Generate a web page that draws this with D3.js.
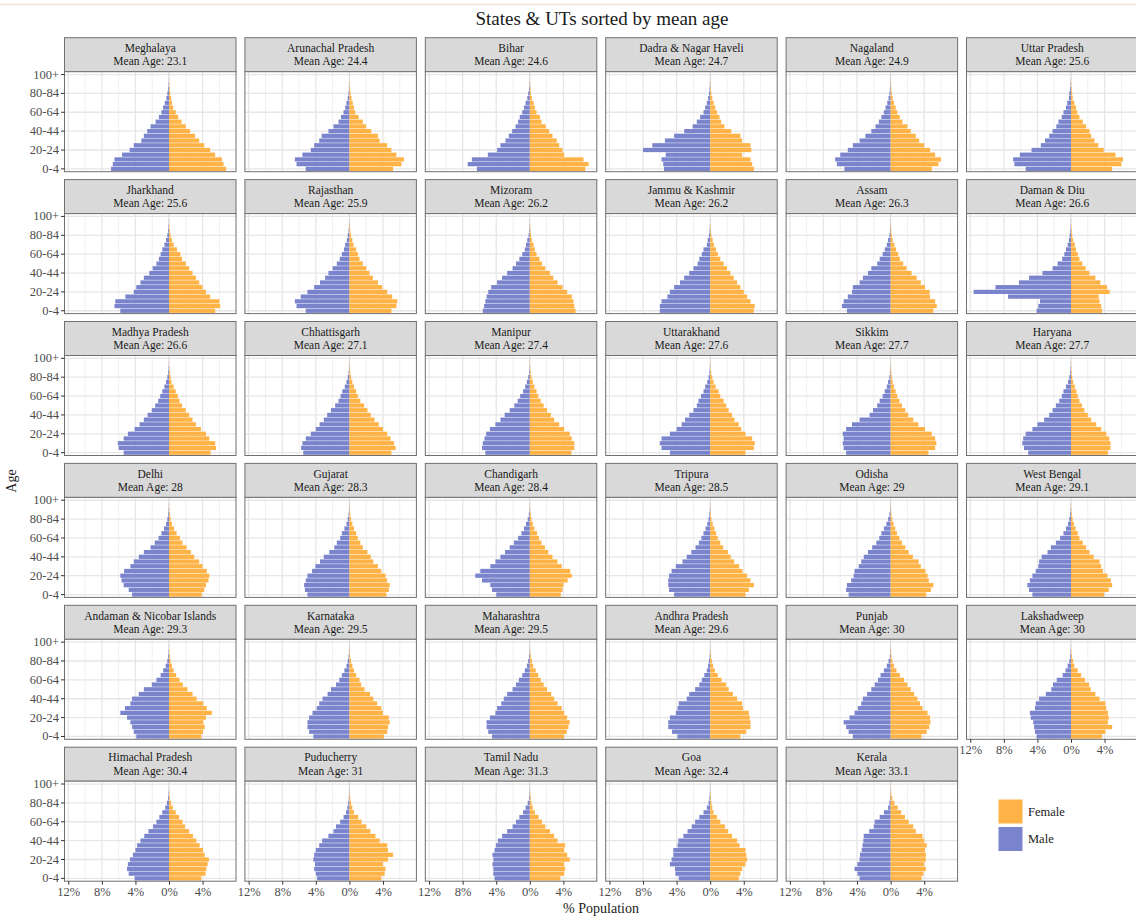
<!DOCTYPE html>
<html><head><meta charset="utf-8">
<script src="https://cdn.jsdelivr.net/npm/d3@7"></script>
<style>body{margin:0;background:#fff}svg{display:block}</style>
</head><body>
<svg id="chart" width="1136" height="916"></svg>
<script>
const ageGroups = ["0-4","5-9","10-14","15-19","20-24","25-29","30-34","35-39","40-44","45-49","50-54","55-59","60-64","65-69","70-74","75-79","80-84","85-89","90-94","95-99","100+"];
const yTickLabels = ["0-4","20-24","40-44","60-64","80-84","100+"];
const xTickValues = [-12,-8,-4,0,4];
const xMinorValues = [-10,-6,-2,2,6];
const sexes = ["Female","Male"];
const states = ["Meghalaya","Arunachal Pradesh","Bihar","Dadra & Nagar Haveli","Nagaland","Uttar Pradesh",
"Jharkhand","Rajasthan","Mizoram","Jammu & Kashmir","Assam","Daman & Diu",
"Madhya Pradesh","Chhattisgarh","Manipur","Uttarakhand","Sikkim","Haryana",
"Delhi","Gujarat","Chandigarh","Tripura","Odisha","West Bengal",
"Andaman & Nicobar Islands","Karnataka","Maharashtra","Andhra Pradesh","Punjab","Lakshadweep",
"Himachal Pradesh","Puducherry","Tamil Nadu","Goa","Kerala"];
const meanAges = [23.1,24.4,24.6,24.7,24.9,25.6,25.6,25.9,26.2,26.2,26.3,26.6,26.6,27.1,27.4,27.6,27.7,27.7,28,28.3,28.4,28.5,29,29.1,29.3,29.5,29.5,29.6,30,30,30.4,31,31.3,32.4,33.1];

// % of state population, male, by age group (0-4 ... 100+)
const maleValues = [
[6.9,6.7,6.5,5.6,4.7,4.2,3.3,3.0,2.6,2.2,1.6,1.2,0.9,0.7,0.5,0.3,0.2,0.1,0.05,0.02,0.01],
[5.2,6.3,6.5,5.6,4.6,4.2,3.6,3.3,2.5,1.9,1.3,1.0,0.7,0.5,0.35,0.2,0.12,0.06,0.03,0.01,0.01],
[6.3,7.4,6.9,5.0,3.9,3.5,2.9,2.5,2.1,1.7,1.4,1.2,0.9,0.7,0.5,0.3,0.2,0.1,0.05,0.02,0.01],
[5.5,5.6,5.8,5.3,8.0,6.9,5.4,4.3,3.1,2.1,1.6,1.2,0.8,0.6,0.4,0.25,0.15,0.08,0.04,0.02,0.01],
[5.5,6.4,6.6,6.0,5.1,4.5,3.7,3.0,2.3,1.8,1.4,1.1,0.8,0.6,0.4,0.25,0.15,0.08,0.04,0.02,0.01],
[5.4,6.75,6.9,6.1,4.7,3.6,3.1,2.6,2.2,1.75,1.5,1.1,0.9,0.6,0.45,0.25,0.2,0.1,0.05,0.02,0.01],
[5.8,6.5,6.4,5.2,4.2,3.9,3.4,3.0,2.35,1.95,1.5,1.2,1.0,0.8,0.55,0.35,0.2,0.1,0.05,0.02,0.01],
[5.2,6.3,6.5,5.8,5.0,4.2,3.5,2.9,2.5,2.0,1.5,1.15,0.9,0.65,0.5,0.3,0.2,0.1,0.05,0.02,0.01],
[5.6,5.45,5.3,5.15,4.95,4.6,3.9,3.3,2.7,2.05,1.65,1.25,0.9,0.6,0.45,0.3,0.15,0.08,0.04,0.02,0.01],
[6.0,6.0,5.8,5.1,4.8,4.3,3.6,3.1,2.5,2.0,1.5,1.3,1.0,0.8,0.4,0.3,0.15,0.08,0.04,0.02,0.01],
[5.2,5.8,5.6,5.1,4.6,4.5,3.7,3.3,2.7,2.3,1.6,1.3,0.95,0.7,0.45,0.3,0.15,0.08,0.04,0.02,0.01],
[4.1,3.9,3.7,7.5,11.6,9.0,6.2,5.0,3.4,2.2,1.6,1.05,0.8,0.6,0.4,0.25,0.15,0.08,0.04,0.02,0.01],
[5.4,6.0,6.1,5.4,4.9,4.1,3.5,3.0,2.55,2.05,1.65,1.3,1.05,0.8,0.55,0.35,0.2,0.1,0.05,0.02,0.01],
[5.5,5.75,5.6,5.2,4.6,4.0,3.55,3.05,2.65,2.2,1.7,1.3,1.05,0.85,0.55,0.35,0.2,0.1,0.05,0.02,0.01],
[5.3,5.7,5.6,5.4,5.2,4.75,4.1,3.5,3.0,2.4,1.85,1.45,1.15,0.8,0.55,0.35,0.2,0.1,0.05,0.02,0.01],
[4.8,5.8,6.0,5.8,4.8,4.0,3.4,3.0,2.5,2.0,1.6,1.4,1.1,0.8,0.6,0.35,0.2,0.1,0.05,0.02,0.01],
[5.3,5.6,5.7,5.6,5.7,5.3,4.6,3.7,2.5,2.1,1.6,1.3,0.95,0.7,0.45,0.3,0.15,0.08,0.04,0.02,0.01],
[5.1,5.6,5.8,5.7,5.4,4.6,4.0,3.2,2.6,2.2,1.8,1.4,1.1,0.9,0.6,0.35,0.2,0.1,0.05,0.02,0.01],
[4.4,4.8,5.4,5.65,5.8,5.35,4.6,4.2,3.6,3.0,2.2,1.7,1.25,0.9,0.6,0.35,0.2,0.1,0.05,0.02,0.01],
[5.0,5.3,5.4,5.2,5.0,4.45,4.05,3.5,3.05,2.4,1.8,1.5,1.1,0.9,0.6,0.35,0.2,0.1,0.05,0.02,0.01],
[4.0,4.5,4.7,5.7,6.5,5.9,4.7,4.1,3.5,2.95,2.4,1.9,1.4,1.0,0.7,0.45,0.25,0.12,0.05,0.02,0.01],
[4.3,4.9,5.0,5.0,4.9,4.6,4.1,3.3,2.8,2.25,1.75,1.35,1.05,0.8,0.55,0.35,0.2,0.1,0.05,0.02,0.01],
[5.0,5.3,5.2,4.7,4.4,4.3,3.8,3.5,3.2,2.7,2.2,1.7,1.35,1.1,0.8,0.5,0.3,0.15,0.06,0.02,0.01],
[4.6,5.0,5.2,4.9,4.6,4.2,3.9,3.8,3.5,2.8,2.4,1.8,1.3,0.9,0.6,0.35,0.2,0.1,0.05,0.02,0.01],
[3.9,4.2,4.4,4.6,5.0,5.8,5.25,4.6,4.4,3.6,3.0,2.05,1.5,1.0,0.7,0.4,0.2,0.1,0.05,0.02,0.01],
[4.3,4.8,5.0,5.0,4.8,4.4,3.9,3.6,3.2,2.6,2.2,1.6,1.2,0.9,0.6,0.35,0.2,0.1,0.05,0.02,0.01],
[4.5,4.95,5.15,5.15,4.75,4.1,3.9,3.4,3.1,2.7,2.05,1.65,1.3,0.9,0.6,0.35,0.2,0.1,0.05,0.02,0.01],
[3.9,4.55,5.0,5.0,4.8,4.1,3.9,3.75,2.8,2.5,1.8,1.3,1.0,0.7,0.4,0.25,0.15,0.08,0.04,0.02,0.01],
[4.5,5.0,5.3,5.6,4.9,4.3,3.9,3.5,3.3,2.8,2.3,1.9,1.5,1.2,0.8,0.45,0.25,0.1,0.05,0.02,0.01],
[4.1,4.3,4.4,4.5,4.8,4.9,4.3,4.2,3.8,3.0,2.35,2.15,1.7,1.0,0.65,0.4,0.2,0.1,0.05,0.02,0.01],
[4.1,4.8,5.0,4.9,4.65,4.3,4.0,3.8,3.4,2.95,2.45,1.9,1.5,1.15,0.8,0.45,0.25,0.1,0.05,0.02,0.01],
[3.85,4.0,4.2,4.1,4.3,4.2,4.0,3.6,3.25,2.5,1.9,1.6,1.1,0.7,0.4,0.25,0.15,0.08,0.04,0.02,0.01],
[4.2,4.35,4.35,4.45,4.35,4.45,4.2,4.05,3.8,3.3,2.7,2.05,1.65,1.25,0.8,0.5,0.25,0.1,0.05,0.02,0.01],
[3.75,4.15,4.2,4.8,4.6,4.4,4.4,3.9,3.8,3.2,2.7,2.2,1.8,1.3,0.8,0.4,0.2,0.1,0.05,0.02,0.01],
[3.7,3.95,4.3,3.95,3.7,3.65,3.45,3.35,3.25,3.2,2.55,2.0,1.9,1.3,0.8,0.3,0.15,0.08,0.04,0.02,0.01]
];

// % of state population, female, by age group (0-4 ... 100+)
const femaleValues = [
[6.8,6.5,6.3,5.5,4.9,4.2,3.6,3.1,2.5,2.0,1.5,1.1,0.8,0.5,0.35,0.25,0.15,0.08,0.04,0.02,0.01],
[5.2,6.2,6.5,5.6,5.0,4.5,3.6,3.4,2.6,2.0,1.6,1.1,0.7,0.55,0.4,0.25,0.15,0.08,0.04,0.02,0.01],
[6.6,7.0,6.4,4.1,3.9,3.5,3.2,2.7,2.3,1.9,1.4,1.2,0.8,0.6,0.45,0.25,0.15,0.08,0.04,0.02,0.01],
[5.2,5.0,4.8,3.8,4.9,4.8,3.8,3.6,2.5,1.7,1.3,1.1,0.8,0.6,0.4,0.25,0.15,0.08,0.04,0.02,0.01],
[4.9,5.7,6.0,5.3,4.7,4.0,3.4,3.0,2.4,2.0,1.4,1.1,0.8,0.6,0.4,0.25,0.15,0.08,0.04,0.02,0.01],
[4.9,6.0,6.2,5.3,3.9,3.25,2.8,2.4,2.2,1.8,1.4,1.0,0.75,0.6,0.4,0.2,0.15,0.08,0.04,0.02,0.01],
[5.5,6.1,6.0,4.9,4.4,4.0,3.6,3.2,2.8,2.4,2.0,1.55,1.35,0.95,0.55,0.35,0.2,0.1,0.05,0.02,0.01],
[5.0,5.6,5.7,5.1,4.5,3.9,3.4,2.8,2.4,2.0,1.6,1.2,1.0,0.8,0.5,0.35,0.2,0.1,0.05,0.02,0.01],
[5.45,5.3,5.2,5.0,4.45,3.9,3.3,2.8,2.4,1.85,1.45,1.15,0.8,0.6,0.45,0.25,0.15,0.08,0.04,0.02,0.01],
[5.2,5.3,4.8,4.4,4.0,3.6,3.2,2.8,2.4,2.0,1.6,1.2,0.9,0.7,0.45,0.3,0.15,0.08,0.04,0.02,0.01],
[5.1,5.5,5.3,4.7,4.65,4.1,3.6,3.1,2.5,1.9,1.5,1.1,0.9,0.65,0.45,0.25,0.15,0.08,0.04,0.02,0.01],
[3.7,3.6,3.4,3.3,4.6,4.3,3.5,2.9,2.2,1.75,1.35,1.0,0.8,0.6,0.45,0.25,0.15,0.08,0.04,0.02,0.01],
[4.95,5.6,5.5,4.8,4.4,3.8,3.2,2.8,2.4,2.0,1.55,1.25,1.05,0.8,0.55,0.3,0.2,0.1,0.05,0.02,0.01],
[5.0,5.5,5.3,4.9,4.5,4.0,3.5,3.0,2.55,2.15,1.75,1.3,1.0,0.8,0.55,0.35,0.2,0.1,0.05,0.02,0.01],
[4.95,5.3,5.3,5.0,4.75,4.1,3.5,2.9,2.5,2.05,1.65,1.3,1.0,0.8,0.55,0.35,0.2,0.1,0.05,0.02,0.01],
[4.2,5.2,5.3,5.0,4.2,3.7,3.4,2.9,2.6,2.2,1.9,1.6,1.2,1.0,0.65,0.4,0.25,0.12,0.05,0.02,0.01],
[4.5,5.3,5.45,5.3,4.9,4.1,3.3,2.7,2.1,1.75,1.35,1.05,0.8,0.6,0.4,0.25,0.15,0.08,0.04,0.02,0.01],
[4.4,4.7,4.7,4.55,4.2,3.6,3.0,2.4,2.0,1.6,1.3,1.0,0.8,0.65,0.45,0.25,0.15,0.08,0.04,0.02,0.01],
[3.9,4.2,4.4,4.7,4.8,4.5,4.0,3.6,3.0,2.6,2.1,1.6,1.3,0.9,0.6,0.35,0.2,0.1,0.05,0.02,0.01],
[4.4,4.7,4.8,4.5,4.3,3.8,3.4,2.85,2.55,2.15,1.6,1.3,1.0,0.8,0.55,0.35,0.2,0.1,0.05,0.02,0.01],
[3.7,3.9,4.0,4.5,5.0,4.8,3.8,3.3,2.7,2.2,1.8,1.4,1.1,0.85,0.55,0.35,0.2,0.1,0.05,0.02,0.01],
[4.2,4.6,5.2,4.8,4.4,3.85,3.45,2.85,2.45,2.1,1.55,1.2,0.9,0.7,0.5,0.3,0.15,0.08,0.04,0.02,0.01],
[4.25,4.8,5.1,4.55,4.4,4.15,3.6,3.35,2.65,2.15,1.75,1.35,1.05,0.75,0.55,0.35,0.2,0.1,0.05,0.02,0.01],
[3.95,4.5,4.9,4.75,4.35,3.8,3.6,3.4,2.7,2.2,1.8,1.4,1.0,0.8,0.55,0.35,0.2,0.1,0.05,0.02,0.01],
[3.85,4.05,4.25,4.1,4.4,5.1,4.5,4.1,3.3,2.8,2.2,1.65,1.25,0.85,0.55,0.35,0.2,0.1,0.05,0.02,0.01],
[4.1,4.5,4.6,4.8,4.7,4.0,3.8,3.3,2.85,2.45,1.8,1.4,1.2,0.8,0.55,0.35,0.2,0.1,0.05,0.02,0.01],
[4.1,4.4,4.6,4.75,4.45,4.1,3.8,3.3,2.9,2.55,2.05,1.65,1.3,1.0,0.7,0.4,0.25,0.12,0.05,0.02,0.01],
[3.6,4.3,4.8,4.8,4.7,4.6,3.9,3.8,3.2,2.7,2.2,1.9,1.35,0.9,0.55,0.35,0.2,0.1,0.05,0.02,0.01],
[3.7,4.3,4.6,4.75,4.7,4.4,3.8,3.5,3.2,2.8,2.4,2.0,1.6,1.1,0.7,0.4,0.22,0.1,0.05,0.02,0.01],
[3.7,4.1,4.9,4.4,4.5,4.4,4.2,4.1,3.4,2.9,2.35,2.15,1.65,1.2,0.8,0.4,0.25,0.1,0.05,0.02,0.01],
[3.85,4.35,4.45,4.6,4.75,4.25,4.05,3.65,3.25,2.85,2.4,1.9,1.6,1.2,0.8,0.45,0.25,0.1,0.05,0.02,0.01],
[3.8,4.2,4.3,4.0,4.6,5.2,4.6,4.5,3.6,3.1,2.5,2.0,1.45,1.05,0.55,0.35,0.2,0.1,0.05,0.02,0.01],
[3.65,4.1,4.2,4.1,4.75,4.45,4.1,4.2,3.3,2.9,2.4,1.85,1.45,1.05,0.6,0.35,0.2,0.1,0.05,0.02,0.01],
[3.4,3.6,3.8,4.2,4.4,4.3,4.2,3.5,3.2,2.6,2.15,1.75,1.2,0.8,0.4,0.25,0.15,0.08,0.04,0.02,0.01],
[3.7,3.9,4.2,4.0,4.2,4.2,4.1,4.3,4.0,3.8,3.0,2.7,2.15,1.7,1.25,0.85,0.45,0.2,0.08,0.03,0.01]
];

const colors = {Female: "#FFB347", Male: "#7A84CD"};
const FONT = "'Liberation Serif','DejaVu Serif',serif";

const svg = d3.select("#chart").style("font-family", FONT);

// layout
const nCols = 6;
const colX0 = 64.5, colPitch = 180.4, panelW = 171.5;
const rowY0 = 37.7, rowPitch = 141.9, stripH = 34, plotH = 100;

const x = d3.scaleLinear().domain([-12.45, 7.98]).range([0, panelW]);
const y = d3.scaleBand().domain(ageGroups).range([plotH, 0]).paddingInner(0).paddingOuter(0.1);
const bw = y.bandwidth();

// faint top line
svg.append("line").attr("x1",0).attr("x2",1136).attr("y1",4.5).attr("y2",4.5)
  .attr("stroke","#F7E4D2").attr("stroke-width",1.5);

// title
svg.append("text").attr("x", 602).attr("y", 25).attr("text-anchor","middle")
  .attr("font-size", 19).attr("fill","#1a1a1a").text("States & UTs sorted by mean age");

states.forEach((st, i) => {
  const col = i % nCols, row = Math.floor(i / nCols);
  const px = colX0 + col * colPitch;
  const sy = rowY0 + row * rowPitch;
  const g = svg.append("g").attr("transform", `translate(${px},${sy})`);

  // strip
  g.append("rect").attr("x",0).attr("y",0).attr("width",panelW).attr("height",stripH)
    .attr("fill","#D9D9D9").attr("stroke","#707070").attr("stroke-width",1);
  g.append("text").attr("x",panelW/2).attr("y",14.3).attr("text-anchor","middle")
    .attr("font-size",11.5).attr("fill","#1a1a1a").text(st);
  g.append("text").attr("x",panelW/2).attr("y",27.4).attr("text-anchor","middle")
    .attr("font-size",11.5).attr("fill","#1a1a1a").text("Mean Age: " + meanAges[i]);

  const p = g.append("g").attr("transform", `translate(0,${stripH})`);
  p.append("rect").attr("width",panelW).attr("height",plotH).attr("fill","#fff");
  // grid
  p.selectAll(".minx").data(xMinorValues).join("line")
    .attr("x1",d=>x(d)).attr("x2",d=>x(d)).attr("y1",0).attr("y2",plotH)
    .attr("stroke","#F0F0F0").attr("stroke-width",1);
  p.selectAll(".majx").data(xTickValues).join("line")
    .attr("x1",d=>x(d)).attr("x2",d=>x(d)).attr("y1",0).attr("y2",plotH)
    .attr("stroke","#E6E6E6").attr("stroke-width",1.3);
  p.selectAll(".majy").data(yTickLabels).join("line")
    .attr("x1",0).attr("x2",panelW).attr("y1",d=>y(d)+bw/2).attr("y2",d=>y(d)+bw/2)
    .attr("stroke","#E6E6E6").attr("stroke-width",1.3);

  // bars
  const rows = [];
  ageGroups.forEach((a, k) => {
    rows.push({age:a, sex:"Male", v:-maleValues[i][k]});
    rows.push({age:a, sex:"Female", v:femaleValues[i][k]});
  });
  p.selectAll(".bar").data(rows).join("rect")
    .attr("x", d => x(Math.min(0, d.v)))
    .attr("width", d => Math.abs(x(d.v) - x(0)))
    .attr("y", d => y(d.age) + bw*0.05)
    .attr("height", bw*0.9)
    .attr("fill", d => colors[d.sex]);

  // border
  p.append("rect").attr("width",panelW).attr("height",plotH).attr("fill","none")
    .attr("stroke","#707070").attr("stroke-width",1);

  // y axis on first column
  if (col === 0) {
    const ya = p.append("g").call(d3.axisLeft(y).tickValues(yTickLabels).tickSize(3.5).tickPadding(2));
    ya.select(".domain").remove();
    ya.selectAll("line").attr("stroke","#333");
    ya.selectAll("text").attr("font-family",FONT).attr("font-size",12.5).attr("fill","#4D4D4D");
  }
  // x axis on bottom panel of each column
  const isBottom = (i + nCols >= states.length);
  if (isBottom) {
    const xa = p.append("g").attr("transform",`translate(0,${plotH})`)
      .call(d3.axisBottom(x).tickValues(xTickValues).tickSize(3.5).tickPadding(2.5).tickFormat(d => Math.abs(d) + "%"));
    xa.select(".domain").remove();
    xa.selectAll("line").attr("stroke","#333");
    xa.selectAll("text").attr("font-family",FONT).attr("font-size",12.5).attr("fill","#4D4D4D");
  }
});

// axis titles
svg.append("text").attr("transform","translate(16,481) rotate(-90)").attr("text-anchor","middle")
  .attr("font-size",14).attr("fill","#1a1a1a").text("Age");
svg.append("text").attr("x",601).attr("y",913).attr("text-anchor","middle")
  .attr("font-size",14).attr("fill","#1a1a1a").text("% Population");

// legend
const lg = svg.append("g").attr("transform","translate(998,799)");
sexes.forEach((s, j) => {
  lg.append("rect").attr("x",0).attr("y",j*27.5).attr("width",25).attr("height",25)
    .attr("fill",colors[s]).attr("stroke","#fff").attr("stroke-width",1);
  lg.append("text").attr("x",30).attr("y",j*27.5+16.5).attr("font-size",12.5).attr("fill","#1a1a1a").text(s);
});
</script>
</body></html>
